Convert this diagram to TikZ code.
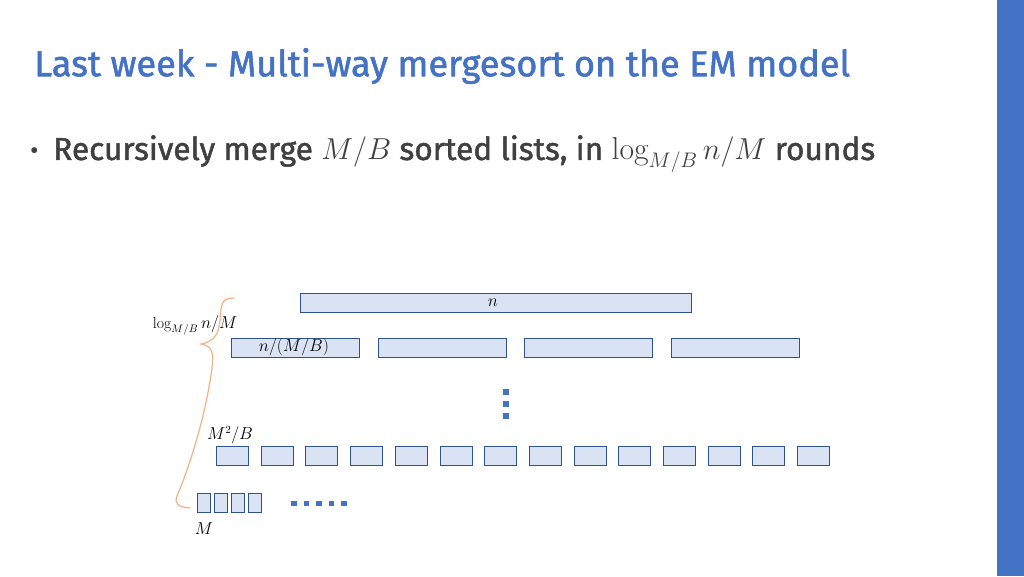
\documentclass[tikz,border=0pt]{standalone}
\usepackage{fontspec}
\setmainfont{Fira Sans}
\usepackage{amsmath}
\DeclareMathOperator{\mylog}{\textrm{\fontspec{Latin Modern Roman}log}}
\definecolor{ttl}{HTML}{4472C4}
\definecolor{fillb}{HTML}{DAE3F3}
\definecolor{edgeb}{HTML}{2F528F}
\definecolor{br}{HTML}{F4B183}
\definecolor{txt}{HTML}{404040}
\begin{document}
\begin{tikzpicture}[x=1pt,y=-1pt,
  bx/.style={draw=edgeb,fill=fillb,line width=0.8pt,inner sep=0pt},
  sq/.style={fill=ttl,minimum size=5.5pt,inner sep=0pt},
  lbl/.style={inner sep=0pt,font=\fontsize{16}{18}\selectfont}]
\useasboundingbox (0,0) rectangle (1024,576);
\fill[white] (0,0) rectangle (1024,576);
\fill[ttl] (997,0) rectangle (1024,576);
\node[anchor=west,text=ttl,inner sep=0pt] (title) at (34,66) {\resizebox{816pt}{!}{\fontsize{36}{40}\selectfont\addfontfeature{FakeBold=1.5}Last week - Multi-way mergesort on the EM model}};
\node[anchor=west,text=txt,inner sep=0pt] (bullet) at (30,154) {\fontsize{26}{30}\selectfont •};
\node[anchor=west,text=txt,inner sep=0pt] (btext) at (53,154) {\resizebox{822pt}{!}{\fontsize{26}{30}\selectfont\addfontfeature{FakeBold=1.5}Recursively merge $M/B$ sorted lists, in $\mylog_{M/B} n/M$ rounds}};
% row 1
\node[bx,minimum width=391pt,minimum height=19pt] (r1) at (495.5,302.5) {};
\node[lbl] (ln) at (493,303) {$n$};
% row 2
\foreach \x [count=\i] in {231,378,524,671}
  \node[bx,minimum width=128pt,minimum height=19pt,anchor=north west] (r2\i) at (\x,338) {};
\node[lbl] (l2) at (294,347) {$n/(M/B)$};
% vertical dots
\foreach \y [count=\i] in {392,404,416} \node[sq] (vd\i) at (506,\y) {};
% row 3
\foreach \i in {0,...,13}
  \node[bx,minimum width=32pt,minimum height=19pt,anchor=north west] (r3\i) at ({216+44.7*\i},446) {};
\node[lbl] (l3) at (230,435) {$M^2/B$};
% row 4
\foreach \i in {0,...,3}
  \node[bx,minimum width=13pt,minimum height=19pt,anchor=north west] (r4\i) at ({197+17*\i},493) {};
\foreach \i in {0,...,4} \node[sq] (hd\i) at ({294+12.5*\i},503.5) {};
\node[lbl] (l4) at (204,529) {$M$};
\node[lbl] (l0) at (195,325) {$\mylog_{M/B} n/M$};
% brace
\draw[br,line width=1.2pt,line cap=round] (234,298) .. controls (222,298) and (221,303) .. (220,320)
  .. controls (219,336) and (212,342) .. (201,344)
  .. controls (212,346) and (214,352) .. (212,368)
  .. controls (205,420) and (188,470) .. (177,496)
  .. controls (174,504) and (178,507) .. (190,508);
\end{tikzpicture}
\end{document}
